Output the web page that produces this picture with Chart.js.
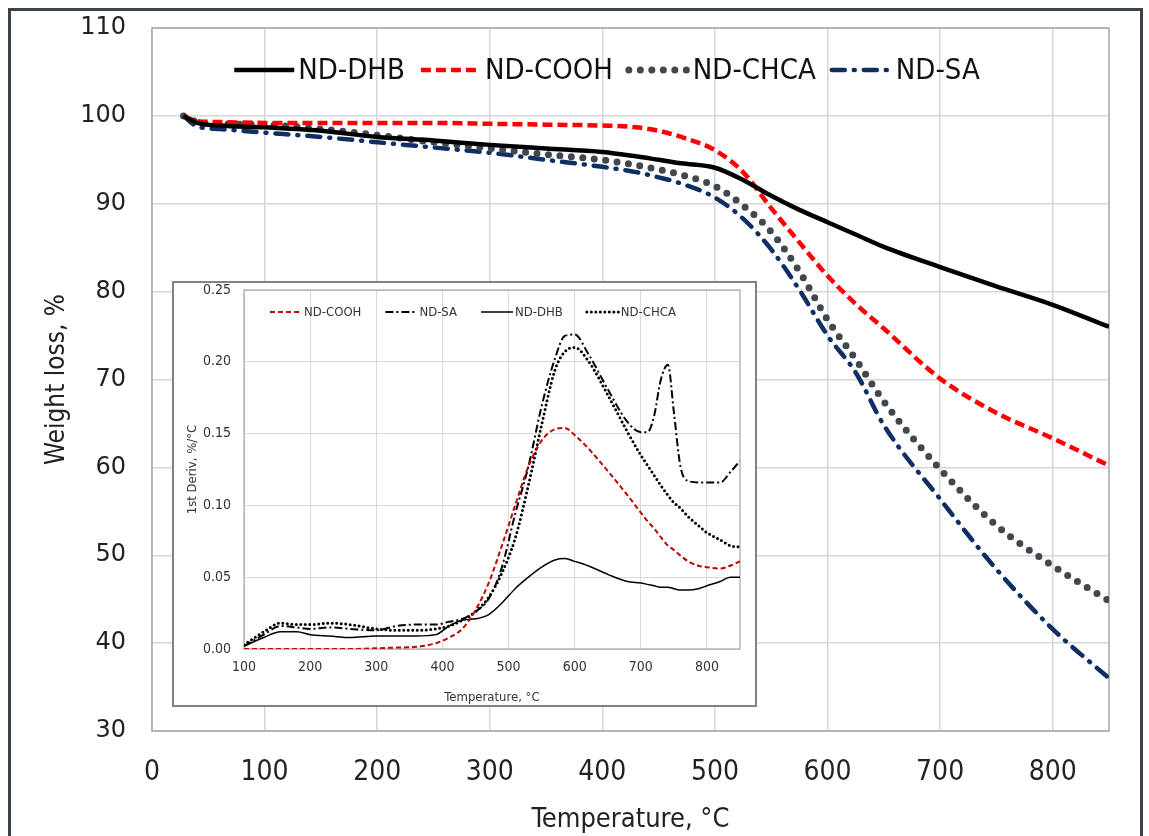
<!DOCTYPE html>
<html>
<head>
<meta charset="utf-8">
<script src="https://cdn.jsdelivr.net/npm/chart.js@4.4.1/dist/chart.umd.min.js"></script>
<style>
  html, body { margin: 0; padding: 0; background: #fff; }
  #page { position: relative; width: 1149px; height: 836px; overflow: hidden; }
  #frame { position: absolute; left: 8px; top: 8px; width: 1129px; height: 860px; border: 3px solid #3a434d; }
  #main { position: absolute; left: 0; top: 0; }
  #insetBox { position: absolute; left: 172px; top: 281px; width: 581px; height: 422px; border: 2px solid #7b838c; background: #fff; }
  #inset { position: absolute; left: 0; top: 0; }
</style>
</head>
<body>
<div id="page">
  <div id="frame"></div>
  <canvas id="main" width="1149" height="836"></canvas>
  <div id="insetBox"><canvas id="inset" width="581" height="422"></canvas></div>
</div>
<script>
// --- main TGA curves (weight %, vs temperature) ---
const tempMain = [28, 40, 60, 100, 150, 200, 250, 300, 350, 400, 430, 450, 470, 500, 525, 550, 575, 600, 625, 650, 700, 750, 800, 850];
const wDHB  = [100, 99.2, 98.9, 98.7, 98.3, 97.6, 97.2, 96.7, 96.3, 95.9, 95.4, 95.0, 94.6, 94.1, 92.7, 90.9, 89.3, 87.9, 86.5, 85.1, 82.8, 80.6, 78.5, 76.0];
const wCOOH = [100, 99.4, 99.3, 99.2, 99.2, 99.2, 99.2, 99.1, 99.0, 98.9, 98.7, 98.3, 97.6, 96.1, 93.6, 89.5, 85.6, 81.8, 78.6, 75.8, 70.1, 66.2, 63.3, 60.2];
const wCHCA = [100, 99.3, 99.1, 99.0, 98.5, 97.8, 97.0, 96.3, 95.6, 95.0, 94.4, 93.9, 93.3, 92.0, 89.8, 86.8, 82.3, 76.8, 72.3, 67.5, 59.8, 53.4, 48.8, 44.8];
const wSA   = [100, 98.8, 98.5, 98.1, 97.6, 97.0, 96.4, 95.8, 95.0, 94.2, 93.6, 93.0, 92.3, 90.7, 88.3, 84.8, 80.2, 75.0, 70.8, 64.8, 56.4, 48.4, 41.6, 36.0];

// --- inset DTG curves (1st derivative, %/°C) ---
const tempInset = [100, 130, 155, 180, 200, 230, 260, 300, 330, 360, 390, 410, 430, 450, 470, 490, 510, 530, 550, 570, 585, 600, 620, 650, 680, 700, 710, 720, 730, 741, 750, 760, 772, 787, 800, 820, 835, 850];
const dCOOH = [0, 0, 0, 0, 0, 0, 0, 0.0005, 0.001, 0.0015, 0.004, 0.008, 0.014, 0.027, 0.046, 0.072, 0.100, 0.127, 0.145, 0.153, 0.154, 0.149, 0.140, 0.124, 0.107, 0.095, 0.089, 0.084, 0.078, 0.072, 0.069, 0.065, 0.061, 0.058, 0.057, 0.056, 0.058, 0.061];
const dSA   = [0.002, 0.010, 0.016, 0.015, 0.014, 0.015, 0.014, 0.013, 0.016, 0.017, 0.017, 0.019, 0.021, 0.026, 0.035, 0.057, 0.094, 0.127, 0.169, 0.202, 0.218, 0.219, 0.206, 0.181, 0.158, 0.151, 0.151, 0.162, 0.187, 0.198, 0.165, 0.127, 0.117, 0.116, 0.116, 0.116, 0.123, 0.131];
const dDHB  = [0.002, 0.008, 0.012, 0.012, 0.010, 0.009, 0.008, 0.009, 0.009, 0.009, 0.010, 0.016, 0.020, 0.021, 0.024, 0.032, 0.042, 0.050, 0.057, 0.062, 0.063, 0.061, 0.058, 0.052, 0.047, 0.046, 0.045, 0.044, 0.043, 0.043, 0.042, 0.041, 0.041, 0.042, 0.044, 0.047, 0.050, 0.050];
const dCHCA = [0.003, 0.012, 0.018, 0.017, 0.017, 0.018, 0.017, 0.014, 0.013, 0.013, 0.014, 0.016, 0.020, 0.026, 0.036, 0.053, 0.077, 0.114, 0.156, 0.194, 0.207, 0.210, 0.201, 0.177, 0.151, 0.135, 0.128, 0.121, 0.114, 0.107, 0.102, 0.098, 0.092, 0.086, 0.081, 0.076, 0.072, 0.071];

const mainXTicks = [0, 100, 200, 300, 400, 500, 600, 700, 800];
const insetXTicks = [100, 200, 300, 400, 500, 600, 700, 800];

const NARROW = "'Liberation Sans Narrow', 'Arial Narrow', 'DejaVu Sans Condensed', sans-serif";
const pts = (xs, ys) => xs.map((x, i) => ({ x: x, y: ys[i] }));

// legend drawn inside the plot, one row, centred on cx
function rowLegend(cfg) {
  return {
    id: "rowLegend",
    afterDatasetsDraw(chart) {
      const ctx = chart.ctx;
      ctx.save();
      ctx.font = cfg.font;
      const items = cfg.order.map((i) => chart.data.datasets[i]);
      const widths = items.map((d) => cfg.sample + cfg.gap + ctx.measureText(d.label).width);
      const total = widths.reduce((a, b) => a + b, 0) + cfg.spacing * (items.length - 1);
      let x = cfg.cx - total / 2;
      items.forEach((d, i) => {
        ctx.beginPath();
        ctx.setLineDash(d.borderDash || []);
        ctx.lineCap = d.borderCapStyle || "butt";
        ctx.lineWidth = d.borderWidth;
        ctx.strokeStyle = d.borderColor;
        ctx.moveTo(x, cfg.cy); ctx.lineTo(x + cfg.sample, cfg.cy);
        ctx.stroke();
        ctx.setLineDash([]);
        ctx.fillStyle = cfg.color;
        ctx.textBaseline = "middle";
        ctx.fillText(d.label, x + cfg.sample + cfg.gap, cfg.cy + 1);
        x += widths[i] + cfg.spacing;
      });
      ctx.restore();
    }
  };
}

function plotBox(color, width) {
  return {
    id: "plotBox",
    beforeDatasetsDraw(chart) {
      const { ctx, chartArea: a } = chart;
      ctx.save();
      ctx.strokeStyle = color; ctx.lineWidth = width;
      ctx.strokeRect(a.left, a.top, a.right - a.left, a.bottom - a.top);
      ctx.restore();
    }
  };
}

// fixed axis sizes, no extra room for half tick labels
const fixY = (w) => (s) => { s.width = w; s.paddingTop = 0; s.paddingBottom = 0; };
const fixX = (h) => (s) => { s.height = h; s.paddingLeft = 0; s.paddingRight = 0; };

const lineBase = { pointRadius: 0, fill: false, cubicInterpolationMode: "monotone" };

new Chart(document.getElementById("main"), {
  type: "line",
  data: {
    datasets: [
      { ...lineBase, label: "ND-DHB", data: pts(tempMain, wDHB), borderColor: "#000", borderWidth: 4.5 },
      { ...lineBase, label: "ND-COOH", data: pts(tempMain, wCOOH), borderColor: "#ff0000", borderWidth: 4.5, borderDash: [10, 5] },
      { ...lineBase, label: "ND-CHCA", data: pts(tempMain, wCHCA), borderColor: "#41474e", borderWidth: 7, borderDash: [0, 11.5], borderCapStyle: "round" },
      { ...lineBase, label: "ND-SA", data: pts(tempMain, wSA), borderColor: "#0d2f63", borderWidth: 4.5, borderDash: [13, 9, 1, 9], borderCapStyle: "round" }
    ]
  },
  options: {
    responsive: false, animation: false,
    layout: { autoPadding: false, padding: { top: 28, right: 40, left: 0, bottom: 0 } },
    plugins: { legend: { display: false }, tooltip: { enabled: false } },
    scales: {
      x: {
        type: "linear", min: 0, max: 850,
        afterBuildTicks: (s) => { s.ticks = mainXTicks.map((v) => ({ value: v })); },
        afterFit: fixX(105),
        ticks: { font: { family: NARROW, size: 28 }, color: "#222", padding: 25 },
        grid: { color: "#d6d6d6", lineWidth: 1.5, drawTicks: false },
        border: { display: false },
        title: { display: true, text: "Temperature, °C", color: "#222", font: { family: NARROW, size: 27 }, padding: { top: 5, bottom: 0 } }
      },
      y: {
        min: 30, max: 110,
        afterFit: fixY(152),
        ticks: { stepSize: 10, font: { family: "'DejaVu Sans', sans-serif", size: 24 }, color: "#222", padding: 26 },
        grid: { color: "#d6d6d6", lineWidth: 1.5, drawTicks: false },
        border: { display: false },
        title: { display: true, text: "Weight loss, %", color: "#222", font: { family: NARROW, size: 26 }, padding: { top: 42, bottom: 0 } }
      }
    }
  },
  plugins: [plotBox("#a6a6a6", 1.5), rowLegend({ cx: 607, cy: 70, font: "29px " + NARROW, sample: 60, gap: 4, spacing: 16, color: "#111", order: [0, 1, 2, 3] })]
});

new Chart(document.getElementById("inset"), {
  type: "line",
  data: {
    datasets: [
      { ...lineBase, label: "ND-COOH", data: pts(tempInset, dCOOH), borderColor: "#c00000", borderWidth: 2, borderDash: [5, 3] },
      { ...lineBase, label: "ND-SA", data: pts(tempInset, dSA), borderColor: "#000", borderWidth: 2, borderDash: [8, 3, 2, 3] },
      { ...lineBase, label: "ND-DHB", data: pts(tempInset, dDHB), borderColor: "#000", borderWidth: 1.5 },
      { ...lineBase, label: "ND-CHCA", data: pts(tempInset, dCHCA), borderColor: "#000", borderWidth: 3, borderDash: [0, 4.5], borderCapStyle: "round" }
    ]
  },
  options: {
    responsive: false, animation: false,
    layout: { autoPadding: false, padding: { top: 7, right: 15, left: 0, bottom: 0 } },
    plugins: { legend: { display: false }, tooltip: { enabled: false } },
    scales: {
      x: {
        type: "linear", min: 100, max: 850,
        afterBuildTicks: (s) => { s.ticks = insetXTicks.map((v) => ({ value: v })); },
        afterFit: fixX(56),
        ticks: { font: { family: NARROW, size: 14 }, color: "#333", padding: 10 },
        grid: { color: "#d9d9d9", lineWidth: 1, drawTicks: false },
        border: { display: false },
        title: { display: true, text: "Temperature, °C", color: "#333", font: { family: NARROW, size: 13 }, padding: { top: 13, bottom: 0 } }
      },
      y: {
        min: 0, max: 0.25,
        afterFit: fixY(70),
        ticks: { stepSize: 0.05, font: { family: NARROW, size: 14 }, color: "#333", padding: 13, callback: (v) => v.toFixed(2) },
        grid: { color: "#d9d9d9", lineWidth: 1, drawTicks: false },
        border: { display: false },
        title: { display: true, text: "1st Deriv, %/°C", color: "#333", font: { family: NARROW, size: 13 }, padding: { top: 11, bottom: 0 } }
      }
    }
  },
  plugins: [plotBox("#a6a6a6", 1.2), rowLegend({ cx: 299, cy: 29, font: "13px " + NARROW, sample: 32, gap: 2, spacing: 24, color: "#333", order: [0, 1, 2, 3] })]
});
</script>
</body>
</html>
